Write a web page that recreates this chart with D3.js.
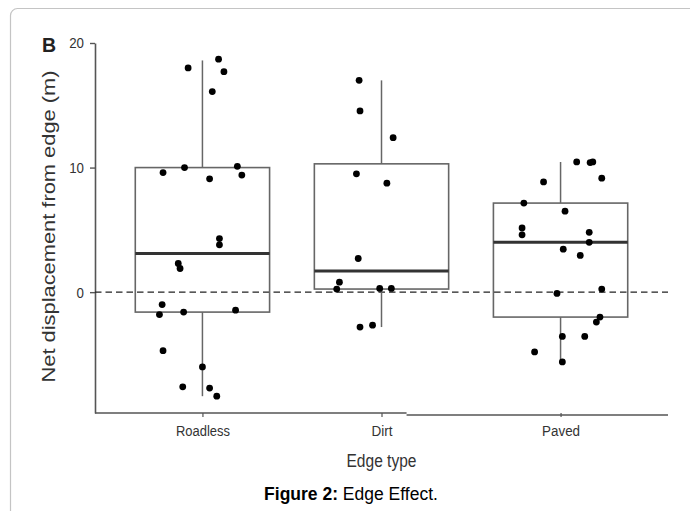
<!DOCTYPE html>
<html>
<head>
<meta charset="utf-8">
<script src="https://cdn.jsdelivr.net/npm/d3@7/dist/d3.min.js"></script>
<style>
  body { margin: 0; background: #fff; }
  text { font-family: "Liberation Sans", Arial, sans-serif; }
</style>
</head>
<body>
<script>
// Categories and box statistics
const categories = ["Roadless", "Dirt", "Paved"];
const q1 = [-1.6, 0.25, -2.0];
const medians = [3.1, 1.7, 4.0];
const q3 = [10.0, 10.3, 7.15];
const whiskerLo = [-8.35, -2.8, -5.6];
const whiskerHi = [18.6, 17.0, 10.45];

// Raw points: value and jitter (in category units)
const roadlessValues = [18.7, 18.0, 17.7, 16.1, 10.1, 10.0, 9.6, 9.4, 9.1, 4.3, 3.8, 2.3, 1.9, -1.0, -1.45, -1.6, -1.8, -4.7, -6.0, -7.6, -7.7, -8.35];
const roadlessJitter = [0.09, -0.08, 0.12, 0.055, 0.195, -0.10, -0.22, 0.22, 0.04, 0.095, 0.095, -0.135, -0.125, -0.225, 0.185, -0.105, -0.24, -0.22, 0, -0.11, 0.04, 0.08];
const dirtValues = [17.0, 14.55, 12.4, 9.5, 8.75, 2.7, 0.8, 0.25, 0.3, 0.3, -2.65, -2.8];
const dirtJitter = [-0.125, -0.12, 0.065, -0.14, 0.03, -0.13, -0.235, -0.25, -0.01, 0.055, -0.05, -0.12];
const pavedValues = [10.45, 10.4, 10.45, 9.15, 8.85, 7.15, 6.5, 5.15, 4.6, 4.8, 4.0, 3.45, 2.95, -0.1, 0.25, -2.0, -2.4, -3.55, -3.55, -4.8, -5.6];
const pavedJitter = [0.09, 0.165, 0.18, 0.23, -0.095, -0.205, 0.025, -0.215, -0.215, 0.16, 0.16, 0.015, 0.11, -0.02, 0.23, 0.22, 0.2, 0.01, 0.135, -0.145, 0.01];

const yTicks = [0, 10, 20];

const width = 690, height = 511;
const svg = d3.select("body").append("svg")
    .attr("width", width)
    .attr("height", height);

// Frame around the figure
svg.append("rect")
    .attr("x", 10.5).attr("y", 8.5)
    .attr("width", 700).attr("height", 540)
    .attr("rx", 7)
    .attr("fill", "none")
    .attr("stroke", "#c4c4c4")
    .attr("stroke-width", 1.2);

// Scales
const x = d3.scaleLinear().domain([0.4, 3.6]).range([95, 668]);
const y = d3.scaleLinear().domain([-9.7, 20]).range([413, 43]);
const halfBox = 0.375;

// Y axis
const yAxis = svg.append("g")
    .attr("transform", "translate(95,0)")
    .call(d3.axisLeft(y).tickValues(yTicks).tickSize(5).tickSizeOuter(0).tickPadding(6));
yAxis.select(".domain").attr("stroke", "#555").attr("stroke-width", 1.6);
yAxis.selectAll(".tick line").attr("stroke", "#555").attr("stroke-width", 1.4);
yAxis.selectAll(".tick text")
    .attr("font-size", 15.5).attr("fill", "#333")
    .attr("textLength", (d) => String(d).length * 7.4)
    .attr("lengthAdjust", "spacingAndGlyphs");

// X axis (the lower line has a small step, as in the original)
const xAxis = svg.append("g")
    .attr("transform", `translate(0,${y(-9.7)})`)
    .call(d3.axisBottom(x).tickValues([1, 2, 3]).tickFormat((d) => categories[d - 1])
        .tickSize(4).tickSizeOuter(0).tickPadding(8));
xAxis.select(".domain").remove();
xAxis.append("line")
    .attr("x1", x(0.4)).attr("x2", x(2.14))
    .attr("stroke", "#555").attr("stroke-width", 1.6);
xAxis.append("line")
    .attr("x1", x(2.14)).attr("x2", x(3.6))
    .attr("y1", 2).attr("y2", 2)
    .attr("stroke", "#555").attr("stroke-width", 1.6);
xAxis.selectAll(".tick line").attr("stroke", "#555").attr("stroke-width", 1.2);
const labelWidths = [54, 21, 38];
xAxis.selectAll(".tick text")
    .attr("font-size", 15.5).attr("fill", "#333")
    .attr("textLength", (d) => labelWidths[d - 1])
    .attr("lengthAdjust", "spacingAndGlyphs");

// Zero reference line
svg.append("line")
    .attr("x1", x(0.4)).attr("x2", x(3.6))
    .attr("y1", y(0)).attr("y2", y(0))
    .attr("stroke", "#222")
    .attr("stroke-width", 1.4)
    .attr("stroke-dasharray", "6.5,4");

// Boxes
const boxes = svg.append("g");
categories.forEach((c, i) => {
    const cx = x(i + 1);
    boxes.append("line")
        .attr("x1", cx).attr("x2", cx)
        .attr("y1", y(q3[i])).attr("y2", y(whiskerHi[i]))
        .attr("stroke", "#666").attr("stroke-width", 1.5);
    boxes.append("line")
        .attr("x1", cx).attr("x2", cx)
        .attr("y1", y(q1[i])).attr("y2", y(whiskerLo[i]))
        .attr("stroke", "#666").attr("stroke-width", 1.5);
    boxes.append("rect")
        .attr("x", x(i + 1 - halfBox))
        .attr("y", y(q3[i]))
        .attr("width", x(i + 1 + halfBox) - x(i + 1 - halfBox))
        .attr("height", y(q1[i]) - y(q3[i]))
        .attr("fill", "none")
        .attr("stroke", "#666").attr("stroke-width", 1.6);
    boxes.append("line")
        .attr("x1", x(i + 1 - halfBox)).attr("x2", x(i + 1 + halfBox))
        .attr("y1", y(medians[i])).attr("y2", y(medians[i]))
        .attr("stroke", "#333").attr("stroke-width", 3);
});

// Points
const pointSets = [
    [roadlessValues, roadlessJitter],
    [dirtValues, dirtJitter],
    [pavedValues, pavedJitter]
];
const points = svg.append("g");
pointSets.forEach(([vals, jit], i) => {
    vals.forEach((v, k) => {
        points.append("circle")
            .attr("cx", x(i + 1 + jit[k]))
            .attr("cy", y(v))
            .attr("r", 3.4)
            .attr("fill", "#000");
    });
});

// Panel letter
svg.append("text")
    .attr("x", 42).attr("y", 52)
    .attr("font-size", 19.5).attr("font-weight", "bold")
    .attr("fill", "#222")
    .text("B");

// Axis titles
svg.append("text")
    .attr("transform", `translate(55,${(70 + 383) / 2}) rotate(-90)`)
    .attr("text-anchor", "middle")
    .attr("font-size", 19)
    .attr("textLength", 312)
    .attr("lengthAdjust", "spacingAndGlyphs")
    .attr("fill", "#333")
    .text("Net displacement from edge (m)");

svg.append("text")
    .attr("x", x(2)).attr("y", 467)
    .attr("text-anchor", "middle")
    .attr("font-size", 18)
    .attr("textLength", 70)
    .attr("lengthAdjust", "spacingAndGlyphs")
    .attr("fill", "#333")
    .text("Edge type");

// Caption
const cap = svg.append("text")
    .attr("x", 351).attr("y", 500)
    .attr("text-anchor", "middle")
    .attr("font-size", 17.5)
    .attr("fill", "#000");
cap.append("tspan").attr("font-weight", "bold").text("Figure 2:");
cap.append("tspan").text(" Edge Effect.");
</script>
</body>
</html>
